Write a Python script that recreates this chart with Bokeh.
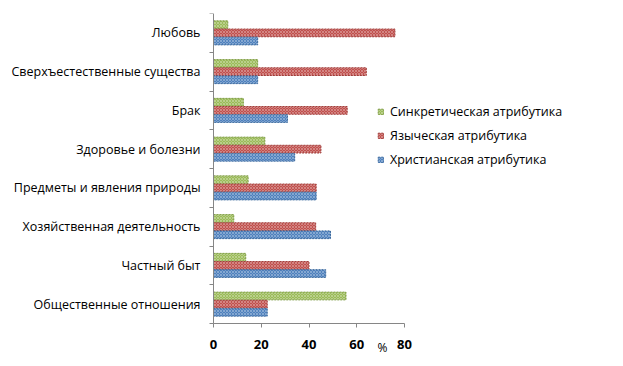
from bokeh.plotting import figure
from bokeh.models import Range1d, FixedTicker, Legend, LegendItem, Label, ColumnDataSource
from bokeh.embed import file_html
from bokeh.resources import INLINE

categories = ["Любовь", "Сверхъестественные существа", "Брак", "Здоровье и болезни",
              "Предметы и явления природы", "Хозяйственная деятельность",
              "Частный быт", "Общественные отношения"]
series_names = ["Синкретическая атрибутика", "Языческая атрибутика", "Христианская атрибутика"]
syncretic = [6, 18.5, 12.5, 21.5, 14.5, 8.5, 13.5, 55.5]
pagan = [76, 64, 56, 45, 43, 42.8, 40, 22.5]
christian = [18.5, 18.5, 31, 34, 43, 49, 47, 22.5]
x_ticks = [0, 20, 40, 60, 80]
colors = ["#9BBB59", "#C0504D", "#4F81BD"]
line_colors = ["#7E9C45", "#A03E3B", "#3C6A9E"]

n = len(categories)
centers = [n - i - 0.5 for i in range(n)]
offsets = [0.21, 0.0, -0.21]

FONT = "Open Sans"

# the frame covers the whole canvas; axes are drawn inside it at x=0 / y=0
W, H = 615, 358
LEFT, TOP = 213, 13    # pixel position of the data origin column / top of the categories
AXIS_PX = 191.0        # pixels for 0..80
CAT_PX = 38.75         # pixels per category
x_start = -x_ticks[-1] * LEFT / AXIS_PX
x_end = x_ticks[-1] * (W - LEFT) / AXIS_PX
y_start = -(H - TOP - n * CAT_PX) / CAT_PX

p = figure(width=W, height=H, output_backend="svg", toolbar_location=None,
           x_range=Range1d(x_start, x_end), y_range=Range1d(y_start, n),
           min_border_left=0, min_border_right=0, min_border_top=TOP, min_border_bottom=0)
p.outline_line_color = None
p.xgrid.visible = False
p.ygrid.visible = False
p.background_fill_color = "white"
p.border_fill_color = "white"

renderers = []
for vals, off, c, lc in zip([syncretic, pagan, christian], offsets, colors, line_colors):
    src = ColumnDataSource(dict(y=[cy + off for cy in centers], right=vals))
    r = p.hbar(y="y", right="right", left=0, height=0.2, source=src,
               fill_color=c, line_color=lc, line_width=1, line_dash="2 1",
               hatch_pattern="x", hatch_scale=3, hatch_color="white", hatch_alpha=0.3,
               hatch_weight=1)
    renderers.append(r)

# x axis
xa = p.xaxis[0]
xa.fixed_location = 0
xa.bounds = (x_ticks[0], x_ticks[-1])
xa.ticker = FixedTicker(ticks=x_ticks, minor_ticks=[])
xa.axis_line_color = "#868686"
xa.major_tick_line_color = "#868686"
xa.major_tick_out = 4
xa.major_tick_in = 0
xa.minor_tick_line_color = None
xa.major_label_text_font = FONT
xa.major_label_text_font_size = "13px"
xa.major_label_text_font_style = "bold"
xa.major_label_text_color = "#000000"
xa.major_label_standoff = 12

# y axis
ya = p.yaxis[0]
ya.fixed_location = 0
ya.bounds = (0, n)
ya.ticker = FixedTicker(ticks=centers, minor_ticks=list(range(n + 1)))
ya.major_label_overrides = {c: name for c, name in zip(centers, categories)}
ya.axis_line_color = "#868686"
ya.major_tick_line_color = None
ya.major_tick_out = 0
ya.major_tick_in = 0
ya.minor_tick_line_color = "#868686"
ya.minor_tick_out = 4
ya.minor_tick_in = 0
ya.major_label_text_font = FONT
ya.major_label_text_font_size = "12.5px"
ya.major_label_text_color = "#000000"
ya.major_label_standoff = 9

legend = Legend(items=[LegendItem(label=nm, renderers=[r]) for nm, r in zip(series_names, renderers)],
                location=(LEFT + 164, 190), orientation="vertical",
                glyph_width=7, glyph_height=7, label_standoff=6, label_height=14,
                spacing=7, padding=0, margin=0,
                border_line_color=None, background_fill_alpha=0,
                label_text_font=FONT, label_text_font_size="12.5px", label_text_color="#000000")
p.add_layout(legend, "center")

p.add_layout(Label(x=70.8, y=-0.62, text="%", text_align="center", text_baseline="middle",
                   text_font=FONT, text_font_size="12px", text_color="#000000"))

open("out.html", "w").write(file_html(p, INLINE))
